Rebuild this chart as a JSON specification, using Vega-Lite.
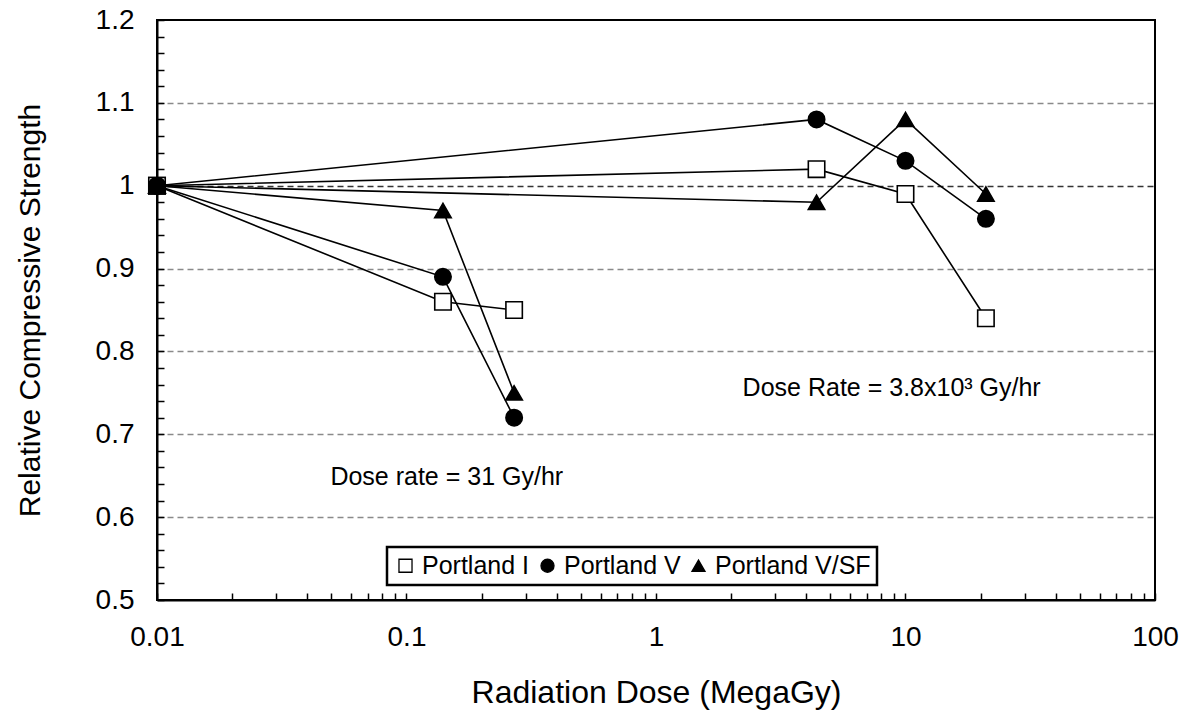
{
  "$schema": "https://vega.github.io/schema/vega-lite/v6.json",
  "width": 998,
  "height": 580,
  "autosize": {"type": "none"},
  "padding": {"left": 157, "top": 20, "right": 43, "bottom": 112},
  "background": "white",
  "config": {
    "font": "Liberation Sans",
    "view": {"stroke": "black", "strokeWidth": 2},
    "axis": {"labelColor": "black", "titleColor": "black", "labelFont": "Liberation Sans", "titleFont": "Liberation Sans", "titleFontWeight": "normal"}
  },
  "datasets": {
    "series": [
      {"cement": "Portland I", "run": "Portland I 31", "dose": 0.01, "strength": 1.0},
      {"cement": "Portland I", "run": "Portland I 31", "dose": 0.14, "strength": 0.86},
      {"cement": "Portland I", "run": "Portland I 31", "dose": 0.27, "strength": 0.85},
      {"cement": "Portland I", "run": "Portland I 3800", "dose": 0.01, "strength": 1.0},
      {"cement": "Portland I", "run": "Portland I 3800", "dose": 4.4, "strength": 1.02},
      {"cement": "Portland I", "run": "Portland I 3800", "dose": 10, "strength": 0.99},
      {"cement": "Portland I", "run": "Portland I 3800", "dose": 21, "strength": 0.84},
      {"cement": "Portland V", "run": "Portland V 31", "dose": 0.01, "strength": 1.0},
      {"cement": "Portland V", "run": "Portland V 31", "dose": 0.14, "strength": 0.89},
      {"cement": "Portland V", "run": "Portland V 31", "dose": 0.27, "strength": 0.72},
      {"cement": "Portland V", "run": "Portland V 3800", "dose": 0.01, "strength": 1.0},
      {"cement": "Portland V", "run": "Portland V 3800", "dose": 4.4, "strength": 1.08},
      {"cement": "Portland V", "run": "Portland V 3800", "dose": 10, "strength": 1.03},
      {"cement": "Portland V", "run": "Portland V 3800", "dose": 21, "strength": 0.96},
      {"cement": "Portland V/SF", "run": "Portland V/SF 31", "dose": 0.01, "strength": 1.0},
      {"cement": "Portland V/SF", "run": "Portland V/SF 31", "dose": 0.14, "strength": 0.97},
      {"cement": "Portland V/SF", "run": "Portland V/SF 31", "dose": 0.27, "strength": 0.75},
      {"cement": "Portland V/SF", "run": "Portland V/SF 3800", "dose": 0.01, "strength": 1.0},
      {"cement": "Portland V/SF", "run": "Portland V/SF 3800", "dose": 4.4, "strength": 0.98},
      {"cement": "Portland V/SF", "run": "Portland V/SF 3800", "dose": 10, "strength": 1.08},
      {"cement": "Portland V/SF", "run": "Portland V/SF 3800", "dose": 21, "strength": 0.99}
    ],
    "notes": [
      {"label": "Dose rate = 31 Gy/hr", "dose": 0.145, "strength": 0.649},
      {"label": "Dose Rate = 3.8x10³ Gy/hr", "dose": 8.8, "strength": 0.756}
    ]
  },
  "encoding": {
    "x": {
      "field": "dose", "type": "quantitative",
      "scale": {"type": "log", "domain": [0.01, 100], "nice": false},
      "axis": {
        "title": "Radiation Dose (MegaGy)",
        "titleFontSize": 32,
        "titlePadding": 26,
        "values": [0.01,0.02,0.03,0.04,0.05,0.06,0.07,0.08,0.09,0.1,0.2,0.3,0.4,0.5,0.6,0.7,0.8,0.9,1,2,3,4,5,6,7,8,9,10,20,30,40,50,60,70,80,90,100],
        "labelExpr": "abs(log(datum.value)/LN10 - round(log(datum.value)/LN10)) < 0.001 ? format(datum.value, '~g') : ''",
        "labelFontSize": 28,
        "labelPadding": 30,
        "labelOverlap": false,
        "labelBound": false,
        "labelFlush": false,
        "tickSize": -7,
        "tickColor": "black",
        "tickWidth": 1.5,
        "domainColor": "black",
        "domainWidth": 2,
        "grid": false
      }
    },
    "y": {
      "field": "strength", "type": "quantitative",
      "scale": {"domain": [0.5, 1.2], "nice": false, "zero": false},
      "axis": {
        "title": "Relative Compressive Strength",
        "titleFontSize": 30,
        "titlePadding": 50,
        "values": [0.5,0.52,0.54,0.56,0.58,0.6,0.62,0.64,0.66,0.68,0.7,0.72,0.74,0.76,0.78,0.8,0.82,0.84,0.86,0.88,0.9,0.92,0.94,0.96,0.98,1,1.02,1.04,1.06,1.08,1.1,1.12,1.14,1.16,1.18,1.2],
        "labelExpr": "abs(datum.value*10 - round(datum.value*10)) < 0.001 ? format(datum.value, '~g') : ''",
        "labelFontSize": 28,
        "labelPadding": 30,
        "labelOverlap": false,
        "labelBound": false,
        "labelFlush": false,
        "tickSize": -7,
        "tickColor": "black",
        "tickWidth": 1.5,
        "domainColor": "black",
        "domainWidth": 2,
        "grid": true,
        "gridDash": [6, 4],
        "gridWidth": 1.5,
        "gridColor": {"condition": {"test": "abs(datum.value - 1) < 0.001", "value": "#333333"}, "value": "#8a8a8a"},
        "gridOpacity": {"condition": {"test": "abs(datum.value*10 - round(datum.value*10)) < 0.001 && datum.value > 0.55 && datum.value < 1.15", "value": 1}, "value": 0}
      }
    }
  },
  "layer": [
    {
      "data": {"name": "series"},
      "mark": {"type": "line", "color": "black", "strokeWidth": 1.6},
      "encoding": {"detail": {"field": "run"}}
    },
    {
      "data": {"name": "series"},
      "mark": {"type": "point", "filled": true, "stroke": "black", "strokeWidth": 1.6, "size": 270, "opacity": 1},
      "encoding": {
        "shape": {
          "field": "cement", "type": "nominal",
          "scale": {"domain": ["Portland I", "Portland V", "Portland V/SF"], "range": ["square", "circle", "triangle-up"]},
          "legend": {
            "title": null,
            "orient": "none",
            "legendX": 230,
            "legendY": 527,
            "direction": "horizontal",
            "strokeColor": "black",
            "fillColor": "white",
            "padding": 6,
            "labelFontSize": 25,
            "labelFont": "Liberation Sans",
            "labelColor": "black",
            "symbolSize": 170,
            "symbolStrokeColor": "black",
            "symbolStrokeWidth": 1.3,
            "symbolOpacity": 1,
            "labelOffset": 4,
            "columnPadding": 5,
            "encode": {
              "symbols": {"update": {"stroke": {"value": "black"}, "strokeWidth": {"value": 1.3}}},
              "legend": {"update": {"strokeWidth": {"value": 2.5}}}
            }
          }
        },
        "fill": {
          "field": "cement", "type": "nominal",
          "scale": {"domain": ["Portland I", "Portland V", "Portland V/SF"], "range": ["white", "black", "black"]},
          "legend": {
            "title": null,
            "orient": "none",
            "legendX": 230,
            "legendY": 527,
            "direction": "horizontal",
            "strokeColor": "black",
            "fillColor": "white",
            "padding": 6,
            "labelFontSize": 25,
            "labelFont": "Liberation Sans",
            "labelColor": "black",
            "symbolSize": 170,
            "symbolStrokeColor": "black",
            "symbolStrokeWidth": 1.3,
            "symbolOpacity": 1,
            "labelOffset": 4,
            "columnPadding": 5,
            "encode": {
              "symbols": {"update": {"stroke": {"value": "black"}, "strokeWidth": {"value": 1.3}}},
              "legend": {"update": {"strokeWidth": {"value": 2.5}}}
            }
          }
        }
      }
    },
    {
      "data": {"name": "notes"},
      "mark": {"type": "text", "font": "Liberation Sans", "fontSize": 25, "color": "black", "align": "center", "baseline": "middle"},
      "encoding": {"text": {"field": "label"}}
    }
  ]
}
